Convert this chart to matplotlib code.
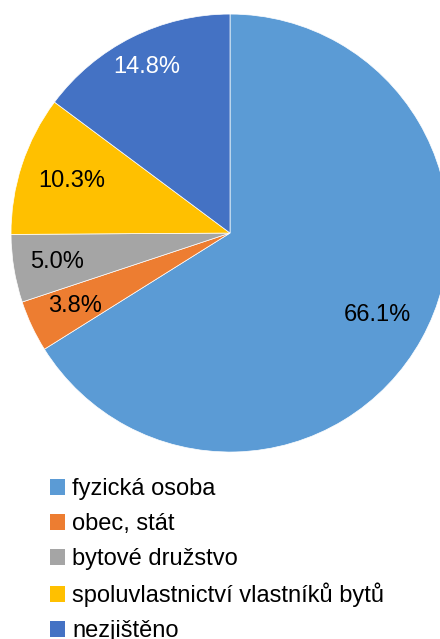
import matplotlib.pyplot as plt

# ownership of dwelling houses
labels = ["fyzická osoba", "obec, stát", "bytové družstvo",
          "spoluvlastnictví vlastníků bytů", "nezjištěno"]
shares = [66.1, 3.8, 5.0, 10.3, 14.8]
colors = ["#5B9BD5", "#ED7D31", "#A5A5A5", "#FFC000", "#4472C4"]
text_colors = ["black", "black", "black", "black", "white"]
label_dist = [0.77, 0.78, 0.80, 0.76, 0.85]

plt.rcParams['font.family'] = ['Liberation Sans', 'DejaVu Sans']

fig = plt.figure(figsize=(4.4, 6.39), dpi=100)
ax = fig.add_axes([0.025, 0.2926, 0.9955, 0.6854])

wedges, texts, autotexts = ax.pie(
    shares, colors=colors, startangle=90, counterclock=False,
    autopct='%.1f%%', pctdistance=1.0, radius=1.0,
    wedgeprops=dict(edgecolor='white', linewidth=0.5),
    textprops=dict(fontsize=17))

for t, d, c in zip(autotexts, label_dist, text_colors):
    x, y = t.get_position()
    t.set_position((x * d, y * d))
    t.set_color(c)

ax.set_xlim(-1, 1)
ax.set_ylim(-1, 1)
ax.set_aspect('equal')
for w in wedges:
    w.set_clip_on(False)

handles = [plt.Rectangle((0, 0), 1, 1, facecolor=c, edgecolor='none') for c in colors]
fig.legend(handles, labels, loc='upper left', bbox_to_anchor=(0.113, 0.252),
           frameon=False, fontsize=17, handlelength=0.65, handleheight=0.65,
           handletextpad=0.3, labelspacing=0.55, borderaxespad=0, borderpad=0)

fig.savefig("out.png", dpi=100)
